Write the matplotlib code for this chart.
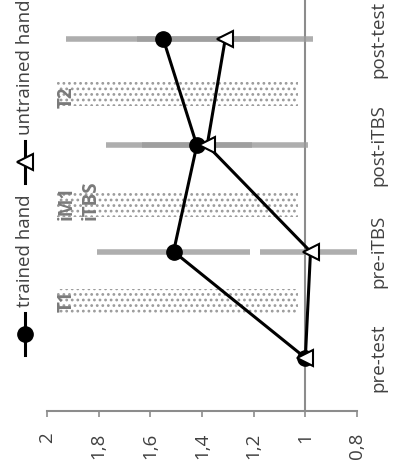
import matplotlib
matplotlib.use("Agg")
import matplotlib.pyplot as plt
from matplotlib.lines import Line2D
from matplotlib.patches import Rectangle

plt.rcParams['font.family'] = ['Open Sans', 'DejaVu Sans']

# data (chart is drawn rotated 90 degrees: value axis horizontal, reversed)
categories = ['pre-test', 'pre-iTBS', 'post-iTBS', 'post-test']
trained = [1.0, 1.51, 1.42, 1.55]
trained_err = [0.0, 0.296, 0.214, 0.376]
untrained = [1.0, 0.98, 1.38, 1.31]
untrained_err = [0.0, 0.195, 0.39, 0.34]
value_ticks = [2.0, 1.8, 1.6, 1.4, 1.2, 1.0, 0.8]
value_labels = ['2', '1,8', '1,6', '1,4', '1,2', '1', '0,8']
phase_starts = [0.42, 1.33, 2.37]

W, H = 399, 471
fig = plt.figure(figsize=(W / 100, H / 100), dpi=100)
ax = fig.add_axes([47 / W, 1 - 411 / H, 310 / W, 411 / H])

pos = list(range(len(categories)))
gray = '#8c8c8c'

# shaded phase boxes between measurements
plt.rcParams['hatch.linewidth'] = 1.2
for start in phase_starts:
    ax.add_patch(Rectangle((1.03, start), 0.93, 0.225, facecolor='white',
                           edgecolor='#9a9a9a', hatch='...', linewidth=0, zorder=1))

ax.axvline(1.0, color=gray, lw=1.5, zorder=2)

ax.errorbar(trained, pos, xerr=trained_err, fmt='none', ecolor='#9c9c9c',
            elinewidth=4, alpha=0.81, capsize=0, zorder=3)
ax.errorbar(untrained, pos, xerr=untrained_err, fmt='none', ecolor='#9c9c9c',
            elinewidth=4, alpha=0.81, capsize=0, zorder=3)

ax.plot(trained, pos, color='black', lw=2.2, marker='o', markersize=11, zorder=4)
ax.plot(untrained, pos, color='black', lw=2.2, marker='<', markersize=11,
        markerfacecolor='white', markeredgecolor='black', markeredgewidth=1.5, zorder=5)

# phase labels
t_kw = dict(rotation=90, ha='center', va='bottom', fontsize=13.5,
            fontweight='bold', color='#7a7a7a', zorder=6)
ax.text(1.925, 0.43, 'T1', **t_kw)
ax.text(1.925, 1.30, 'iM1', **t_kw)
ax.text(1.83, 1.30, 'iTBS', **t_kw)
ax.text(1.925, 2.35, 'T2', **t_kw)

ax.set_xlim(2.0, 0.8)
ax.set_ylim(-0.5, 3.367)

ax.set_xticks(value_ticks)
ax.set_xticklabels(value_labels, rotation=90, fontsize=13.5, color='#404040')
ax.tick_params(axis='x', direction='out', length=4.5, width=1.2, color=gray, pad=11)

ax.yaxis.tick_right()
ax.set_yticks(pos)
ax.set_yticklabels(categories, rotation=90, va='center', fontsize=13.5, color='#404040')
ax.tick_params(axis='y', length=0, pad=9)

for side in ['top', 'left', 'right']:
    ax.spines[side].set_visible(False)
ax.spines['bottom'].set_color(gray)
ax.spines['bottom'].set_linewidth(1.5)

# legend drawn vertically on the left
def fx(px):
    return px / W

def fy(py):
    return 1 - py / H

fig.add_artist(Line2D([fx(25)] * 3, [fy(313), fy(334), fy(355)], color='black', lw=2.2,
                      marker='o', markersize=11, markevery=[1]))
fig.text(fx(25), fy(307), 'trained hand', rotation=90, ha='center', va='bottom',
         fontsize=13.5, color='#404040')
fig.add_artist(Line2D([fx(25)] * 3, [fy(141), fy(162), fy(183)], color='black', lw=2.2,
                      marker='<', markersize=11, markevery=[1], markerfacecolor='white',
                      markeredgecolor='black', markeredgewidth=1.5))
fig.text(fx(25), fy(135), 'untrained hand', rotation=90, ha='center', va='bottom',
         fontsize=13.5, color='#404040')

fig.savefig('out.png', dpi=100)
